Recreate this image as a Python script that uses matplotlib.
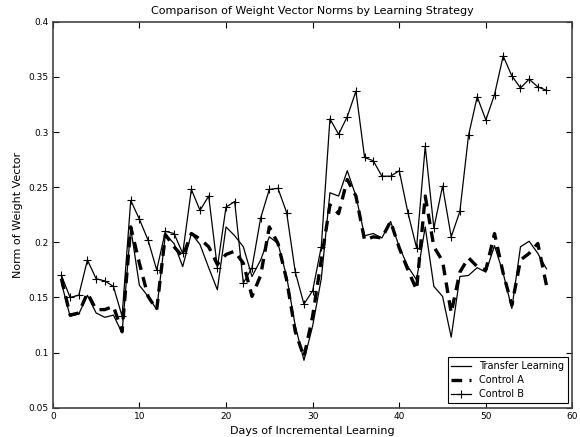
import matplotlib
matplotlib.use("Agg")
import matplotlib.pyplot as plt

plt.rcParams.update({'font.size': 7})

days = list(range(1, 58))

transfer = [0.163, 0.133, 0.135, 0.152, 0.136, 0.132, 0.134, 0.118, 0.213, 0.161,
            0.151, 0.139, 0.207, 0.199, 0.178, 0.208, 0.198, 0.177, 0.157, 0.214,
            0.206, 0.196, 0.169, 0.184, 0.205, 0.199, 0.169, 0.124, 0.093, 0.124,
            0.167, 0.245, 0.242, 0.265, 0.242, 0.206, 0.208, 0.204, 0.219, 0.196,
            0.178, 0.166, 0.214, 0.160, 0.151, 0.114, 0.169, 0.170, 0.177, 0.173,
            0.197, 0.172, 0.140, 0.196, 0.201, 0.190, 0.176]

control_a = [0.167, 0.134, 0.136, 0.154, 0.139, 0.139, 0.142, 0.119, 0.214, 0.181,
             0.151, 0.139, 0.207, 0.196, 0.187, 0.208, 0.203, 0.196, 0.180, 0.189,
             0.192, 0.181, 0.151, 0.170, 0.214, 0.199, 0.166, 0.119, 0.096, 0.133,
             0.184, 0.234, 0.226, 0.257, 0.242, 0.202, 0.205, 0.204, 0.219, 0.195,
             0.175, 0.157, 0.242, 0.196, 0.183, 0.136, 0.173, 0.186, 0.178, 0.175,
             0.208, 0.172, 0.143, 0.184, 0.190, 0.199, 0.161]

control_b = [0.170, 0.150, 0.152, 0.184, 0.167, 0.165, 0.160, 0.133, 0.238, 0.221,
             0.202, 0.175, 0.210, 0.208, 0.190, 0.248, 0.229, 0.242, 0.177, 0.232,
             0.237, 0.163, 0.177, 0.222, 0.248, 0.249, 0.227, 0.173, 0.144, 0.156,
             0.196, 0.312, 0.298, 0.314, 0.337, 0.277, 0.274, 0.260, 0.260, 0.265,
             0.227, 0.195, 0.287, 0.213, 0.251, 0.205, 0.228, 0.297, 0.332, 0.311,
             0.334, 0.369, 0.351, 0.340, 0.348, 0.341, 0.338]

fig = plt.figure(figsize=(5.8, 4.37), dpi=100)
ax = plt.axes([0.091, 0.067, 0.896, 0.883])

ax.plot(days, transfer, color='black', linewidth=0.9, label='Transfer Learning')
ax.plot(days, control_a, color='black', linewidth=2.4, linestyle='--', dashes=(3.2, 2.2), label='Control A')
ax.plot(days, control_b, color='black', linewidth=0.9, marker='+', markersize=6,
        markeredgewidth=0.8, label='Control B')

ax.set_xlim(0, 60)
ax.set_ylim(0.05, 0.4)
ax.set_xticks([0, 10, 20, 30, 40, 50, 60])
ax.set_yticks([0.05, 0.1, 0.15, 0.2, 0.25, 0.3, 0.35, 0.4])
ax.set_yticklabels(['0.05', '0.1', '0.15', '0.2', '0.25', '0.3', '0.35', '0.4'])
ax.tick_params(direction='in', length=4, width=0.8, top=True, right=True, pad=3, labelsize=6.5)
for s in ax.spines.values():
  s.set_linewidth(1.2)
  s.set_color('#444444')

ax.set_title('Comparison of Weight Vector Norms by Learning Strategy', fontsize=8, pad=6)
ax.set_xlabel('Days of Incremental Learning', fontsize=8, labelpad=4)
ax.set_ylabel('Norm of Weight Vector', fontsize=8, labelpad=4)

leg = ax.legend(loc='lower right', fontsize=7, fancybox=False, handlelength=2.0,
                borderpad=0.4, labelspacing=0.4, framealpha=1)
leg.get_frame().set_edgecolor('black')
leg.get_frame().set_linewidth(0.8)

plt.savefig('out.png', dpi=100)
